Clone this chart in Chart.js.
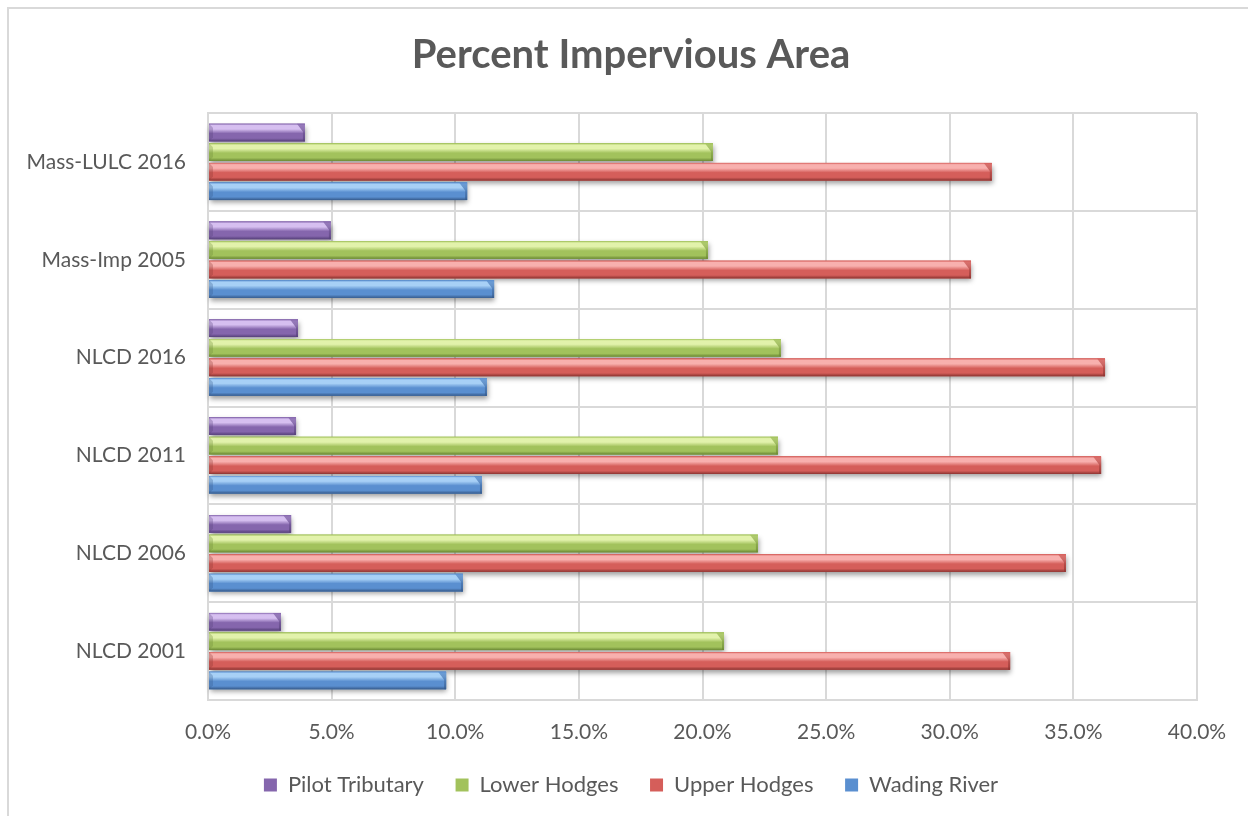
<!DOCTYPE html>
<html>
<head>
<meta charset="utf-8">
<script src="https://cdn.jsdelivr.net/npm/chart.js@4.4.0/dist/chart.umd.min.js"></script>
<style>
  html, body { margin: 0; padding: 0; background: #ffffff; overflow: hidden; }
  #frame { position: absolute; left: 7px; top: 7px; width: 1400px; height: 1000px;
           border-top: 2px solid #d9d9d9; border-left: 2px solid #d9d9d9; box-sizing: border-box; }
  #wrap { position: absolute; left: 0; top: 0; width: 1248px; height: 816px; }
</style>
</head>
<body>
<div id="frame"></div>
<div id="wrap"><canvas id="c" width="1248" height="816"></canvas></div>
<script>
// ---- data ----
const categories = ["Mass-LULC 2016", "Mass-Imp 2005", "NLCD 2016", "NLCD 2011", "NLCD 2006", "NLCD 2001"];
const pilotTributary = [3.92, 4.97, 3.64, 3.56, 3.36, 2.95];
const lowerHodges   = [20.42, 20.22, 23.17, 23.05, 22.24, 20.87];
const upperHodges   = [31.70, 30.86, 36.28, 36.12, 34.70, 32.44];
const wadingRiver   = [10.48, 11.57, 11.28, 11.08, 10.31, 9.63];
const seriesNames = ["Pilot Tributary", "Lower Hodges", "Upper Hodges", "Wading River"];
const xTicks = [0, 5, 10, 15, 20, 25, 30, 35, 40];

// ---- styles ----
const palette = [
  { light: '#d6bff0', mid: '#8566ad', dark: '#56407a' },
  { light: '#e2f2ab', mid: '#a2c25c', dark: '#6a8834' },
  { light: '#f8b0ae', mid: '#d55e5a', dark: '#8c3431' },
  { light: '#a7d0f6', mid: '#5a8fd0', dark: '#365a8b' }
];
const FONT = 'Lato, "Open Sans", sans-serif';
const TEXT = '#595959';
const GRID = '#d9d9d9';

const cylinderBars = {
  id: 'cylinderBars',
  afterDatasetsDraw(chart) {
    const ctx = chart.ctx;
    ctx.save();
    chart.data.datasets.forEach((ds, di) => {
      const meta = chart.getDatasetMeta(di);
      meta.data.forEach(el => {
        const p = el.getProps(['x', 'y', 'base', 'height'], true);
        const top = p.y - p.height / 2;
        ctx.save();
        ctx.shadowColor = 'rgba(0,0,0,0.38)';
        ctx.shadowBlur = 5;
        ctx.shadowOffsetX = 1;
        ctx.shadowOffsetY = 3;
        ctx.fillStyle = palette[di].mid;
        ctx.fillRect(p.base, top, p.x - p.base, p.height);
        ctx.restore();
      });
    });
    chart.data.datasets.forEach((ds, di) => {
      const meta = chart.getDatasetMeta(di);
      const c = palette[di];
      meta.data.forEach(el => {
        const p = el.getProps(['x', 'y', 'base', 'height'], true);
        const top = p.y - p.height / 2, bot = p.y + p.height / 2, h = p.height;
        const g = ctx.createLinearGradient(0, top, 0, bot);
        g.addColorStop(0, c.mid);
        g.addColorStop(0.1, c.light);
        g.addColorStop(0.3, c.light);
        g.addColorStop(0.55, c.mid);
        g.addColorStop(0.82, c.mid);
        g.addColorStop(1, c.dark);
        ctx.fillStyle = g;
        ctx.fillRect(p.base, top, p.x - p.base, h);
        // bevel at end
        const b = Math.min(8, (p.x - p.base) / 2);
        const g2 = ctx.createLinearGradient(0, top, 0, bot);
        g2.addColorStop(0, c.mid);
        g2.addColorStop(1, c.dark);
        ctx.fillStyle = g2;
        ctx.globalAlpha = 0.75;
        ctx.beginPath();
        ctx.moveTo(p.x - b, top);
        ctx.lineTo(p.x, top);
        ctx.lineTo(p.x, bot);
        ctx.lineTo(p.x - 2, bot);
        ctx.lineTo(p.x - 2, top + b);
        ctx.closePath();
        ctx.fill();
        // bevel at start
        ctx.fillStyle = c.dark;
        ctx.globalAlpha = 0.3;
        ctx.beginPath();
        ctx.moveTo(p.base, top);
        ctx.lineTo(p.base + 4, top + 4);
        ctx.lineTo(p.base + 4, bot - 4);
        ctx.lineTo(p.base, bot);
        ctx.closePath();
        ctx.fill();
        ctx.globalAlpha = 1;
      });
    });
    ctx.restore();
  }
};

const seriesValues = [pilotTributary, lowerHodges, upperHodges, wadingRiver];
const datasets = seriesNames.map((name, i) => ({
  label: name,
  data: seriesValues[i],
  backgroundColor: palette[i].mid,
  borderColor: palette[i].dark,
  borderWidth: 0
}));

new Chart(document.getElementById('c'), {
  type: 'bar',
  data: { labels: categories, datasets },
  plugins: [cylinderBars],
  options: {
    indexAxis: 'y',
    responsive: false,
    animation: false,
    layout: { padding: { left: 14, right: 0, top: 0, bottom: 10 } },
    datasets: { bar: { categoryPercentage: 0.8, barPercentage: 0.9 } },
    scales: {
      x: {
        min: 0, max: 40,
        afterBuildTicks(scale) { scale.ticks = xTicks.map(v => ({ value: v })); },
        afterFit(scale) { scale.height = 48; },
        grid: { color: GRID, lineWidth: 2, drawTicks: false },
        border: { color: GRID, width: 2 },
        ticks: {
          padding: 20,
          color: TEXT,
          font: { family: FONT, size: 21 },
          callback: v => v.toFixed(1) + '%'
        }
      },
      y: {
        afterFit(scale) { scale.width = 194; },
        grid: { color: GRID, lineWidth: 2, drawTicks: false, offset: true },
        border: { color: GRID, width: 2 },
        ticks: { padding: 22, color: TEXT, font: { family: FONT, size: 21 } }
      },
      rightSpace: {
        type: 'linear',
        position: 'right',
        display: true,
        afterFit(scale) { scale.width = 51; },
        grid: { display: false, drawTicks: false },
        border: { display: false },
        ticks: { display: false }
      }
    },
    plugins: {
      title: {
        display: true,
        text: 'Percent Impervious Area',
        color: TEXT,
        font: { family: FONT, size: 40, weight: 'bold', lineHeight: 1.2 },
        padding: { top: 31, bottom: 34 }
      },
      legend: {
        position: 'bottom',
        labels: {
          color: TEXT,
          font: { family: FONT, size: 22 },
          boxWidth: 13, boxHeight: 13,
          padding: 26,
          generateLabels(chart) {
            const items = Chart.defaults.plugins.legend.labels.generateLabels(chart);
            items.forEach((it, i) => { if (i < items.length - 1) it.text = it.text + ' '; });
            return items;
          }
        }
      },
      tooltip: { enabled: false }
    }
  }
});
</script>
</body>
</html>
